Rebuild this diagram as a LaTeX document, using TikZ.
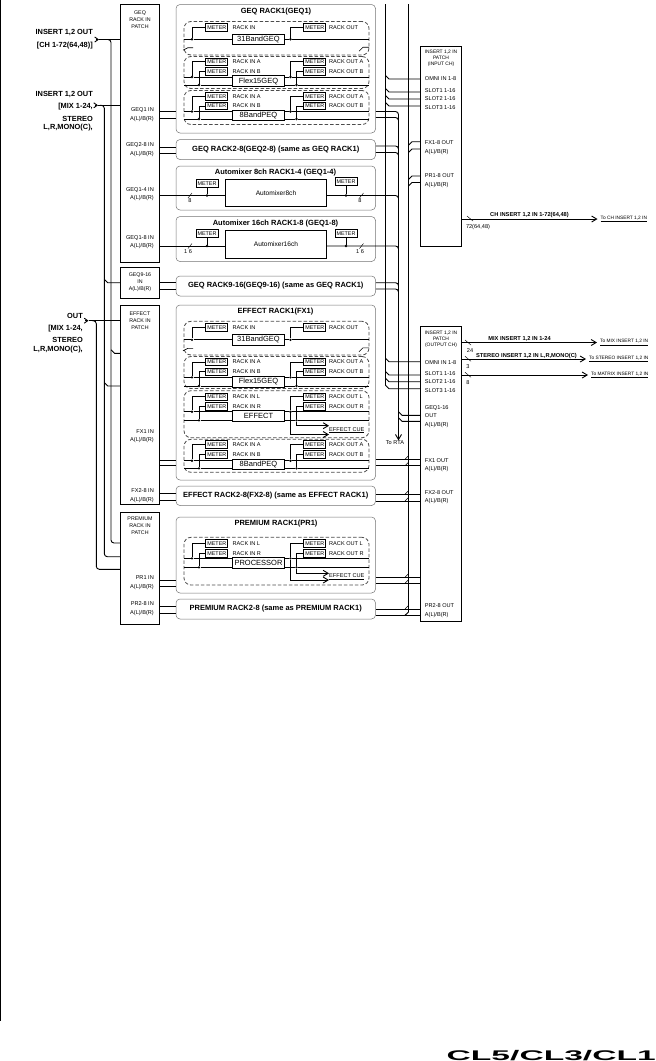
\documentclass[tikz,border=0pt]{standalone}
\usepackage{fontspec}
\setmainfont{Liberation Sans}
\usetikzlibrary{arrows.meta}

\tikzset{
	wire/.style={line width=0.9pt},
	slashmark/.style={line width=0.45pt},
	patchbox/.style={draw, line width=0.9pt, inner sep=0pt},
	rackbox/.style={draw=black!55, line width=0.5pt, rounded corners=4pt, minimum width=199.5pt, inner sep=0pt, font=\bfseries\fontsize{7.5}{9}\selectfont},
	dashframe/.style={draw=black!70, dashed, dash pattern=on 3.5pt off 2pt, line width=0.8pt, rounded corners=7pt, minimum width=185pt, inner sep=0pt},
	unitbox/.style={draw, line width=0.8pt, minimum width=52pt, inner sep=0pt, font=\fontsize{7.5}{9}\selectfont},
	meterbox/.style={draw, line width=0.8pt, minimum width=22pt, minimum height=7.4pt, inner sep=0pt, font=\fontsize{5.4}{6}\selectfont},
	jdot/.style={circle, fill, inner sep=0pt, minimum size=2.6pt},
	smalltxt/.style={inner sep=0pt, font=\fontsize{5.6}{8.4}\selectfont},
	titletxt/.style={inner sep=0pt, font=\fontsize{5.3}{6.9}\selectfont},
	racktitle/.style={inner sep=0pt, font=\bfseries\fontsize{7.5}{9}\selectfont},
	sidelbl/.style={inner sep=0pt, anchor=east, font=\bfseries\fontsize{7.4}{9}\selectfont},
	buslbl/.style={inner sep=0pt, font=\bfseries\fontsize{5.7}{7}\selectfont},
	tolbl/.style={inner sep=0pt, anchor=west, font=\fontsize{4.8}{6}\selectfont},
	>={Straight Barb[length=5pt,width=6pt]},
	smallbarb/.style={>={Straight Barb[length=3.5pt,width=5pt]}},
}

\newcommand{\rackframe}[4]{\node[rackbox, minimum height={#3-#2}] (#1) at (275.75,{(#2+#3)/2}) {#4};}
\newcommand{\dashunit}[3]{\node[dashframe, minimum height={#3-#2}] (#1) at (276.5,{(#2+#3)/2}) {};}
\newcommand{\busdown}[3]{\draw[wire] (#1 |- 0,{#3-3.5}) -- ++(3.5,3.5) -- (#2.west |- 0,#3);}
\newcommand{\busup}[3]{\draw[wire] (#1 |- 0,{#3+3.5}) -- ++(3.5,-3.5) -- (#2.west |- 0,#3);}
\newcommand{\rackin}[3]{\draw[wire] (#1.east |- 0,#3) -- (#2.west |- 0,#3);}
\newcommand{\tortabus}[2]{\draw[wire, rounded corners=3pt] (#1.east |- 0,#2) -- (busb |- 0,#2) -- (busb |- 0,{#2+9});}
\newcommand{\fxout}[2]{\draw[wire] (#1.east |- 0,#2) -- (outpatch.west |- 0,#2);
	\draw[slashmark] (busc |- 0,{#2-3.5}) -- ++(-3.5,3.5);}

% one channel unit with METER and RACK IN/OUT
\newcommand{\monounit}[6]{%
	\node[unitbox, minimum width=#6, minimum height=10.5pt] (#1box) at (258.5,#4) {#2};
	\node[meterbox] (#1mi) at (216.8,#3) {METER};
	\node[meterbox] (#1mo) at (314.8,#3) {METER};
	\node[smalltxt, anchor=west] (#1ti) at (232.5,#3) {RACK IN};
	\node[smalltxt, anchor=west] (#1to) at (329,#3) {RACK OUT};
	\node[jdot] (#1ji) at (192,#4) {};
	\node[jdot] (#1jo) at (290.5,#4) {};
	\coordinate (#1in) at (184,#4);
	\coordinate (#1out) at (369,#4);
	\draw[wire] (#1in) -- (#1ji) -- (#1box.west |- #1ji);
	\draw[wire] (#1box.east |- #1jo) -- (#1jo) -- (#1out);
	\draw[wire] (#1ji) |- (#1mi);
	\draw[wire] (#1jo) |- (#1mo);
	\draw[slashmark, line width=0.6pt] (183,{#4+11}) -- ++(5,-2.5) -- ++(5,0);
	\draw[slashmark, line width=0.6pt] (359,{#4+12}) -- ++(4,-4) -- ++(6,0);
}
% two channel unit
\newcommand{\stereounit}[8]{%
	\node[unitbox, minimum height={#6-#5+2.5}] (#1box) at (258.5,{(#5+#6)/2}) {#2};
	\node[meterbox] (#1mia) at (216.8,#3) {METER};
	\node[meterbox] (#1mib) at (216.8,#4) {METER};
	\node[meterbox] (#1moa) at (314.8,#3) {METER};
	\node[meterbox] (#1mob) at (314.8,#4) {METER};
	\node[smalltxt, anchor=west] (#1tia) at (232.5,#3) {RACK IN #7};
	\node[smalltxt, anchor=west] (#1tib) at (232.5,#4) {RACK IN #8};
	\node[smalltxt, anchor=west] (#1toa) at (329,#3) {RACK OUT #7};
	\node[smalltxt, anchor=west] (#1tob) at (329,#4) {RACK OUT #8};
	\node[jdot] (#1jia) at (192,#5) {};
	\node[jdot] (#1jib) at (199,#6) {};
	\node[jdot] (#1joa) at (290.5,#5) {};
	\node[jdot] (#1job) at (296.5,#6) {};
	\coordinate (#1ina) at (184,#5);
	\coordinate (#1inb) at (184,#6);
	\coordinate (#1outa) at (369,#5);
	\coordinate (#1outb) at (369,#6);
	\draw[wire] (#1ina) -- (#1jia) -- (#1box.west |- #1jia);
	\draw[wire] (#1inb) -- (#1jib) -- (#1box.west |- #1jib);
	\draw[wire] (#1box.east |- #1joa) -- (#1joa) -- (#1outa);
	\draw[wire] (#1box.east |- #1job) -- (#1job) -- (#1outb);
	\draw[wire] (#1jia) |- (#1mia);
	\draw[wire] (#1jib) |- (#1mib);
	\draw[wire] (#1joa) |- (#1moa);
	\draw[wire] (#1job) |- (#1mob);
}
% the two lines to EFFECT CUE
\newcommand{\cueout}[4]{%
	\node[smalltxt, anchor=west] (#1cue) at (329,{(#2+#3)/2}) {\underline{EFFECT CUE}};
	\draw[wire, ->] (#1job) |- (#1cue.west |- 0,#2);
	\draw[wire, ->] (#1joa) |- (#1cue.west |- 0,#3);
}
% automixer rack inside
\newcommand{\autounit}[7]{%
	\node[draw, line width=0.8pt, minimum width=101.5pt, minimum height={#4-#3}, inner sep=0pt, font=\fontsize{6.6}{8}\selectfont] (#1box) at (276,{(#3+#4)/2}) {#2};
	\node[jdot] (#1ji) at (207,#5) {};
	\node[jdot] (#1jo) at (346,#5) {};
	\node[meterbox] (#1mi) at (207,#6) {METER};
	\node[meterbox] (#1mo) at (346,#7) {METER};
	\draw[wire] (#1ji) -- (#1mi);
	\draw[wire] (#1jo) -- (#1mo);
}

\begin{document}
\begin{tikzpicture}[x=1pt, y=-1pt]
	\useasboundingbox (0,0) rectangle (656,1061);
	\coordinate (edgetop) at (0.5,0);
	\coordinate (edgebot) at (0.5,1021);
	\draw[line width=1.2pt] (edgetop) -- (edgebot);

	% patch boxes
	\node[patchbox, minimum width=39pt, minimum height=257.5pt] (geqpatch) at (140,133.25) {};
	\node[patchbox, minimum width=39pt, minimum height=31pt] (geqninepatch) at (140,282.5) {};
	\node[patchbox, minimum width=39pt, minimum height=199pt] (fxpatch) at (140,404.5) {};
	\node[patchbox, minimum width=39pt, minimum height=112pt] (prpatch) at (140,568) {};
	\node[patchbox, minimum width=41pt, minimum height=199.5pt] (inpatch) at (441,146.25) {};
	\node[patchbox, minimum width=41pt, minimum height=295pt] (outpatch) at (441,474) {};

	\node[titletxt, align=center] (geqpatchtxt) at (140,19.5) {GEQ\\RACK IN\\PATCH};
	\node[titletxt, align=center] (geqninetxt) at (140,282.5) {GEQ9-16\\IN\\A(L)/B(R)};
	\node[titletxt, align=center] (fxpatchtxt) at (140,320.3) {EFFECT\\RACK IN\\PATCH};
	\node[titletxt, align=center] (prpatchtxt) at (140,525.5) {PREMIUM\\RACK IN\\PATCH};
	\node[titletxt, align=center, font=\fontsize{4.9}{5.9}\selectfont] (inpatchtxt) at (441,58.5) {INSERT 1,2 IN\\PATCH\\(INPUT CH)};
	\node[titletxt, align=center, font=\fontsize{4.9}{5.9}\selectfont] (outpatchtxt) at (441,339.2) {INSERT 1,2 IN\\PATCH\\(OUTPUT CH)};

	\node[smalltxt, anchor=east, align=right] (geqoneintxt) at (154,114.5) {GEQ1 IN\\A(L)/B(R)};
	\node[smalltxt, anchor=east, align=right] (geqtwointxt) at (154,149.7) {GEQ2-8 IN\\A(L)/B(R)};
	\node[smalltxt, anchor=east, align=right] (autoeightintxt) at (154,194) {GEQ1-4 IN\\A(L)/B(R)};
	\node[smalltxt, anchor=east, align=right] (autosixintxt) at (154,242) {GEQ1-8 IN\\A(L)/B(R)};
	\node[smalltxt, anchor=east, align=right] (fxoneintxt) at (154,436) {FX1 IN\\A(L)/B(R)};
	\node[smalltxt, anchor=east, align=right] (fxtwointxt) at (154,495.8) {FX2-8 IN\\A(L)/B(R)};
	\node[smalltxt, anchor=east, align=right] (proneintxt) at (154,582.8) {PR1 IN\\A(L)/B(R)};
	\node[smalltxt, anchor=east, align=right] (prtwointxt) at (154,608.8) {PR2-8 IN\\A(L)/B(R)};

	% racks
	\rackframe{geqone}{4.5}{133}{}
	\rackframe{geqtwo}{139.5}{159.5}{GEQ RACK2-8(GEQ2-8) (same as GEQ RACK1)}
	\rackframe{autoeight}{166}{210}{}
	\rackframe{autosix}{216.5}{261.5}{}
	\rackframe{geqnine}{276}{296}{GEQ RACK9-16(GEQ9-16) (same as GEQ RACK1)}
	\rackframe{fxone}{305}{480}{}
	\rackframe{fxtwo}{486}{505.5}{EFFECT RACK2-8(FX2-8) (same as EFFECT RACK1)}
	\rackframe{prone}{517}{593}{}
	\rackframe{prtwo}{599}{619}{PREMIUM RACK2-8 (same as PREMIUM RACK1)}

	\node[racktitle] (geqonettl) at (276,11.7) {GEQ RACK1(GEQ1)};
	\node[racktitle] (autoeightttl) at (275.5,172.3) {Automixer 8ch RACK1-4 (GEQ1-4)};
	\node[racktitle] (autosixttl) at (275.5,223.3) {Automixer 16ch RACK1-8 (GEQ1-8)};
	\node[racktitle] (fxonettl) at (275.5,311.7) {EFFECT RACK1(FX1)};
	\node[racktitle] (pronettl) at (276,524) {PREMIUM RACK1(PR1)};

	% GEQ rack
	\dashunit{geqadash}{21.5}{55}
	\dashunit{geqbdash}{56.5}{88.5}
	\dashunit{geqcdash}{90.5}{124.5}
	\monounit{geqa}{31BandGEQ}{27.3}{39.2}{}{52pt}
	\stereounit{geqb}{Flex15GEQ}{61.8}{71.5}{77}{85}{A}{B}
	\stereounit{geqc}{8BandPEQ}{96.3}{106}{111.5}{119}{A}{B}

	% automixers
	\autounit{autoeight}{Automixer8ch}{179.3}{206.3}{195.5}{183.5}{181.5}
	\autounit{autosix}{Automixer16ch}{230.3}{258.3}{246}{233.3}{233.3}
	\draw[wire] (geqpatch.east |- autoeightji) -- (autoeightbox.west |- autoeightji);
	\draw[wire] (geqpatch.east |- autosixji) -- (autosixbox.west |- autosixji);
	\node[smalltxt] (autoeightna) at (190,200.5) {8};
	\node[smalltxt] (autoeightnb) at (360,200.5) {8};
	\node[smalltxt] (autosixna) at (188,252) {1 6};
	\node[smalltxt] (autosixnb) at (360,252) {1 6};
	\draw[slashmark] (190,195.5) ++(-2,2.5) -- ++(4,-5);
	\draw[slashmark] (361.5,195.5) ++(-2,2.5) -- ++(4,-5);
	\draw[slashmark] (190,246) ++(-2,2.5) -- ++(4,-5);
	\draw[slashmark] (361.5,246) ++(-2,2.5) -- ++(4,-5);

	% EFFECT rack
	\dashunit{fxadash}{321.3}{355}
	\dashunit{fxbdash}{356.5}{388.5}
	\dashunit{fxcdash}{390.7}{437.7}
	\dashunit{fxddash}{439.3}{472.3}
	\monounit{fxa}{31BandGEQ}{327.5}{339.8}{}{52pt}
	\stereounit{fxb}{Flex15GEQ}{362}{371.7}{377.3}{386}{A}{B}
	\stereounit{fxc}{EFFECT}{396.7}{406.3}{411.7}{420.3}{L}{R}
	\cueout{fxc}{425.7}{434.5}{}
	\stereounit{fxd}{8BandPEQ}{444.5}{454.2}{460.7}{468.3}{A}{B}

	% PREMIUM rack
	\dashunit{prdash}{537.3}{585}
	\stereounit{pr}{PROCESSOR}{543.5}{553.3}{558.3}{567.3}{L}{R}
	\cueout{pr}{573.3}{580}{}

	% lines from patch to rack
	\rackin{geqpatch}{geqone}{111.5}
	\rackin{geqpatch}{geqone}{118}
	\rackin{geqpatch}{geqtwo}{147}
	\rackin{geqpatch}{geqtwo}{153.3}
	\rackin{geqninepatch}{geqnine}{282.7}
	\rackin{geqninepatch}{geqnine}{289}
	\rackin{fxpatch}{fxone}{460.7}
	\rackin{fxpatch}{fxone}{465.7}
	\rackin{fxpatch}{fxtwo}{493.3}
	\rackin{fxpatch}{fxtwo}{500.7}
	\rackin{prpatch}{prone}{580}
	\rackin{prpatch}{prone}{586}
	\rackin{prpatch}{prtwo}{606.7}
	\rackin{prpatch}{prtwo}{613.3}

	% left inputs
	\node[sidelbl] (chouta) at (93,32) {INSERT 1,2 OUT};
	\node[sidelbl] (choutb) at (93,46) {[CH 1-72(64,48)]};
	\node[sidelbl] (mixouta) at (93,94.3) {INSERT 1,2 OUT};
	\node[sidelbl] (mixoutb) at (93,106.7) {[MIX 1-24,};
	\node[sidelbl] (mixoutc) at (93,119) {STEREO};
	\node[sidelbl] (mixoutd) at (93,127.3) {L,R,MONO(C),};
	\node[sidelbl] (outa) at (83,315.7) {OUT};
	\node[sidelbl] (outb) at (83,329) {[MIX 1-24,};
	\node[sidelbl] (outc) at (83,340) {STEREO};
	\node[sidelbl] (outd) at (83,349.3) {L,R,MONO(C),};
	\coordinate (chin) at (99,39.5);
	\coordinate (mixin) at (98,105.3);
	\coordinate (outin) at (88.5,320.7);
	\coordinate (lefta) at (111,39.5);
	\coordinate (leftb) at (104.3,105.3);
	\coordinate (leftc) at (96.3,320.7);
	\draw[wire, smallbarb, <-] (chin) -- ++(-3.5,0);
	\draw[wire, smallbarb, <-] (mixin) -- ++(-3.5,0);
	\draw[wire, smallbarb, <-] (outin) -- ++(-3.5,0);
	\draw[wire] (chin) -- (geqpatch.west |- chin);
	\draw[wire] (mixin) -- (geqpatch.west |- mixin);
	\draw[wire] (outin) -- (fxpatch.west |- outin);
	\draw[wire, rounded corners=3pt] (107,39.5) -- (lefta) -- (lefta |- 0,543) -- (prpatch.west |- 0,543);
	\draw[wire, rounded corners=3pt] (100,105.3) -- (leftb) -- (leftb |- 0,556.7) -- (prpatch.west |- 0,556.7);
	\draw[wire, rounded corners=3pt] (92,320.7) -- (leftc) -- (leftc |- 0,569.3) -- (prpatch.west |- 0,569.3);
	\busdown{leftb}{geqninepatch}{282.7}
	\busdown{lefta}{fxpatch}{353.3}
	\busdown{leftb}{fxpatch}{386}

	% buses on the right
	\coordinate (busa) at (385.5,4);
	\coordinate (busb) at (398.5,111.5);
	\coordinate (busc) at (408.5,4);
	\node[smalltxt] (torta) at (395,442.5) {To RTA};
	\draw[wire] (busa) -- (busa |- 0,385.2) -- ++(3.5,3.5) -- (outpatch.west |- 0,388.7);
	\draw[wire, rounded corners=3pt] (geqone.east |- busb) -- (busb) -- (busb |- 0,300);
	\draw[wire, ->] (busb |- 0,300) -- (busb |- torta.north);
	\draw[wire] (busc) -- (busc |- 0,612) -- ++(-3.5,3.3);
	\tortabus{geqone}{117.5}
	\tortabus{geqtwo}{146}
	\tortabus{geqtwo}{152.5}
	\tortabus{autoeightbox}{195.5}
	\tortabus{autosixbox}{246}
	\tortabus{geqnine}{282.7}
	\tortabus{geqnine}{289}

	% input channel insert patch
	\node[smalltxt, anchor=west] (inomni) at (424.7,79) {OMNI IN 1-8};
	\node[smalltxt, anchor=west] (inslota) at (424.7,90.7) {SLOT1 1-16};
	\node[smalltxt, anchor=west] (inslotb) at (424.7,99) {SLOT2 1-16};
	\node[smalltxt, anchor=west] (inslotc) at (424.7,107.3) {SLOT3 1-16};
	\node[smalltxt, anchor=west, align=left] (infx) at (424.7,147.5) {FX1-8 OUT\\A(L)/B(R)};
	\node[smalltxt, anchor=west, align=left] (inpr) at (424.7,180.5) {PR1-8 OUT\\A(L)/B(R)};
	\busdown{busa}{inpatch}{79}
	\busdown{busa}{inpatch}{92}
	\busdown{busa}{inpatch}{99}
	\busdown{busa}{inpatch}{106}
	\busup{busc}{inpatch}{141.7}
	\busup{busc}{inpatch}{149}
	\busup{busc}{inpatch}{176}
	\busup{busc}{inpatch}{182.5}

	% output channel insert patch
	\node[smalltxt, anchor=west] (outomni) at (424.7,362.5) {OMNI IN 1-8};
	\node[smalltxt, anchor=west] (outslota) at (424.7,373.3) {SLOT1 1-16};
	\node[smalltxt, anchor=west] (outslotb) at (424.7,381.7) {SLOT2 1-16};
	\node[smalltxt, anchor=west] (outslotc) at (424.7,390.3) {SLOT3 1-16};
	\node[smalltxt, anchor=west, align=left] (outgeq) at (424.7,416.5) {GEQ1-16\\OUT\\A(L)/B(R)};
	\node[smalltxt, anchor=west, align=left] (outfxone) at (424.7,465.3) {FX1 OUT\\A(L)/B(R)};
	\node[smalltxt, anchor=west, align=left] (outfxtwo) at (424.7,497) {FX2-8 OUT\\A(L)/B(R)};
	\node[smalltxt, anchor=west, align=left] (outprtwo) at (424.7,610.5) {PR2-8 OUT\\A(L)/B(R)};
	\busdown{busa}{outpatch}{361.7}
	\busdown{busa}{outpatch}{375}
	\busdown{busa}{outpatch}{381.7}
	\busdown{busb}{outpatch}{415.3}
	\busdown{busb}{outpatch}{421.3}
	\fxout{fxone}{459.3}
	\fxout{fxone}{465.7}
	\fxout{fxtwo}{494.3}
	\fxout{fxtwo}{501}
	\fxout{prone}{577.3}
	\fxout{prone}{583.3}
	\fxout{prtwo}{609}
	\draw[wire] (prtwo.east |- 0,615.3) -- (outpatch.west |- 0,615.3);

	% outputs on the right
	\node[tolbl] (toch) at (600.5,219) {\underline{To CH INSERT 1,2 IN}};
	\node[tolbl] (tomix) at (600,342.5) {\underline{To MIX INSERT 1,2 IN}};
	\node[tolbl] (tostereo) at (589,359) {\underline{To STEREO INSERT 1,2 IN}};
	\node[tolbl] (tomatrix) at (591,375) {\underline{To MATRIX INSERT 1,2 IN}};
	\draw[wire, ->, shorten >=3pt] (inpatch.east |- toch) -- (toch.west);
	\draw[wire, ->, shorten >=3pt] (outpatch.east |- tomix) -- (tomix.west);
	\draw[wire, ->, shorten >=3pt] (outpatch.east |- tostereo) -- (tostereo.west);
	\draw[wire, ->, shorten >=3pt] (outpatch.east |- tomatrix) -- (tomatrix.west);
	\node[buslbl] (chbus) at (529.5,215) {CH INSERT 1,2 IN 1-72(64,48)};
	\node[buslbl] (mixbus) at (519.5,338.7) {MIX INSERT 1,2 IN 1-24};
	\node[buslbl] (stereobus) at (526.5,355.7) {STEREO INSERT 1,2 IN L,R,MONO(C)};
	\node[smalltxt] (chcount) at (478,226.7) {72(64,48)};
	\node[smalltxt] (mixcount) at (470,350.5) {24};
	\node[smalltxt] (stereocount) at (468,366.5) {3};
	\node[smalltxt] (matrixcount) at (468,383) {8};
	\draw[slashmark] (470,219) ++(-3,-3) -- ++(6,5);
	\draw[slashmark] (468,343) ++(-3,-3) -- ++(6,5);
	\draw[slashmark] (468,359.3) ++(-3,-3) -- ++(6,5);
	\draw[slashmark] (468,375.3) ++(-3,-3) -- ++(6,5);

	\node[inner sep=0pt, anchor=base east, font=\bfseries\fontsize{14}{15}\selectfont] (modelname) at (656,1060) {\scalebox{2.4}[1]{CL5/CL3/CL1}};
\end{tikzpicture}
\end{document}
